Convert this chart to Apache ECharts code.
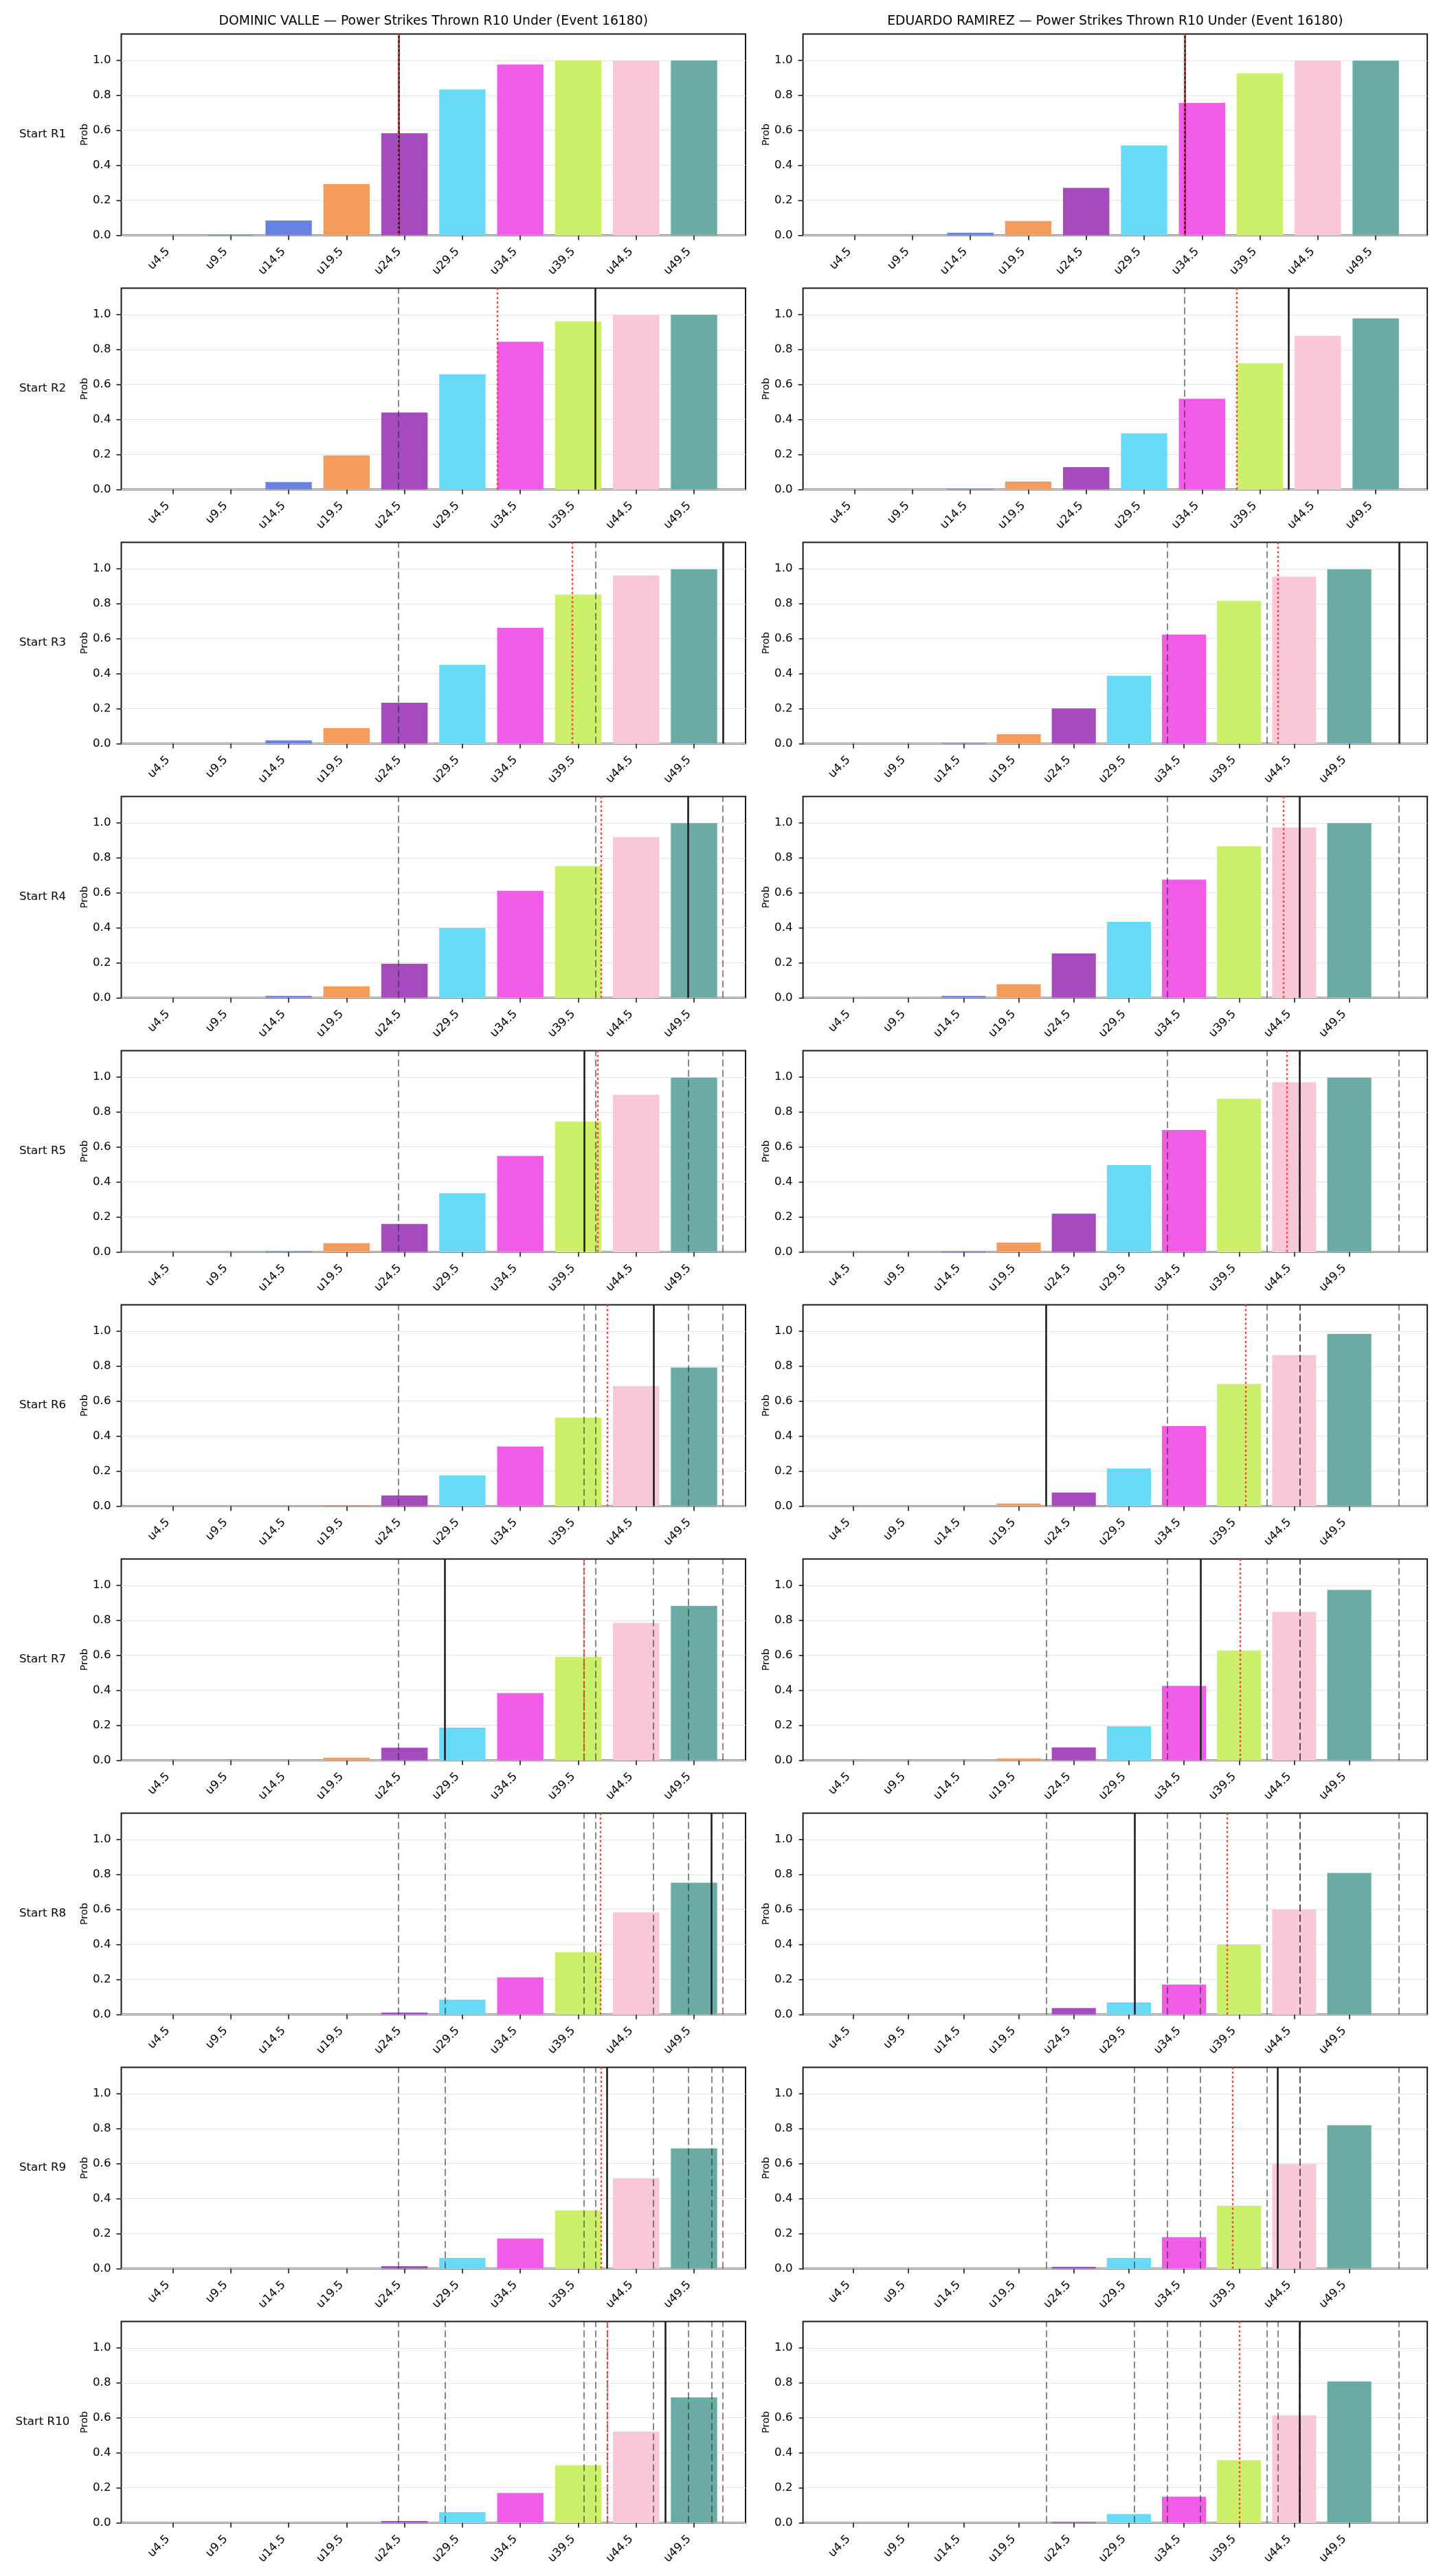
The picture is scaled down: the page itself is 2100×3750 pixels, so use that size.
<!DOCTYPE html>
<html>
<head>
<meta charset="utf-8">
<script src="https://cdn.jsdelivr.net/npm/echarts@6.0.0/dist/echarts.min.js"></script>
<style>
  html, body { margin: 0; padding: 0; background: #fff; }
  #main { width: 2100px; height: 3750px; }
</style>
</head>
<body>
<div id="main"></div>
<script>
// under-lines on the x axis
var CATEGORIES = ['u4.5', 'u9.5', 'u14.5', 'u19.5', 'u24.5', 'u29.5', 'u34.5', 'u39.5', 'u44.5', 'u49.5'];
var ROUNDS = ['Start R1', 'Start R2', 'Start R3', 'Start R4', 'Start R5',
              'Start R6', 'Start R7', 'Start R8', 'Start R9', 'Start R10'];
var TITLES = ['DOMINIC VALLE \u2014 Power Strikes Thrown R10 Under (Event 16180)',
              'EDUARDO RAMIREZ \u2014 Power Strikes Thrown R10 Under (Event 16180)'];
var Y_TICKS = [0, 0.2, 0.4, 0.6, 0.8, 1.0];

// P(under) by start round (one row per round)
var VALLE_PROBS = [
  [0, 0.003, 0.085, 0.293, 0.583, 0.833, 0.976, 0.998, 0.999, 0.999],
  [0, 0, 0.043, 0.195, 0.44, 0.659, 0.844, 0.961, 0.997, 0.998],
  [0, 0, 0.019, 0.089, 0.234, 0.451, 0.662, 0.852, 0.961, 0.996],
  [0, 0, 0.011, 0.065, 0.195, 0.399, 0.612, 0.753, 0.918, 0.998],
  [0, 0, 0.006, 0.05, 0.16, 0.336, 0.549, 0.746, 0.898, 0.996],
  [0, 0, 0, 0.002, 0.061, 0.176, 0.341, 0.506, 0.686, 0.792],
  [0, 0, 0, 0.015, 0.072, 0.187, 0.384, 0.592, 0.785, 0.883],
  [0, 0, 0, 0, 0.011, 0.085, 0.212, 0.356, 0.584, 0.753],
  [0, 0, 0, 0, 0.014, 0.061, 0.172, 0.333, 0.517, 0.687],
  [0, 0, 0, 0, 0.01, 0.061, 0.17, 0.329, 0.521, 0.717]
];
var RAMIREZ_PROBS = [
  [0, 0, 0.015, 0.082, 0.271, 0.514, 0.757, 0.926, 0.998, 0.998],
  [0, 0, 0.004, 0.046, 0.128, 0.321, 0.518, 0.722, 0.879, 0.978],
  [0, 0, 0.002, 0.054, 0.202, 0.388, 0.623, 0.816, 0.954, 0.996],
  [0, 0, 0.011, 0.078, 0.254, 0.434, 0.675, 0.866, 0.974, 0.998],
  [0, 0, 0.002, 0.054, 0.219, 0.497, 0.697, 0.876, 0.97, 0.996],
  [0, 0, 0, 0.015, 0.078, 0.215, 0.458, 0.698, 0.863, 0.985],
  [0, 0, 0, 0.011, 0.074, 0.195, 0.425, 0.627, 0.848, 0.974],
  [0, 0, 0, 0, 0.037, 0.069, 0.171, 0.399, 0.599, 0.809],
  [0, 0, 0, 0, 0.01, 0.061, 0.18, 0.36, 0.598, 0.82],
  [0, 0, 0, 0, 0.006, 0.05, 0.15, 0.358, 0.614, 0.808]
];

// actual count at each round (solid black); earlier rounds show as grey dashes
var VALLE_ACTUAL = [24, 41, 52, 49, 40, 46, 28, 51, 42, 47];
var RAMIREZ_ACTUAL = [33, 42, 54, 45, 45, 22, 36, 30, 43, 45];
// projection (red dotted)
var VALLE_PROJ = [24, 32.5, 39, 41.5, 41.2, 42, 40, 41.4, 41.5, 42];
var RAMIREZ_PROJ = [33, 37.5, 43, 43.5, 43.85, 40.1, 39.6, 38.4, 38.9, 39.5];

var BAR_COLORS = ['#7d9bd6', '#5fa67c', '#6a82df', '#f59c5c', '#a54bbf',
                  '#67daf5', '#f05be8', '#ccf06a', '#f8c8d8', '#6aaba6'];

var FONT = 'DejaVu Sans';
var thresholds = CATEGORIES.map(function (c) { return parseFloat(c.slice(1)); });
var BAR_W = 4;            // 0.8 of the 5-strike step
var COL_LEFT = [176.5, 1168.6];
var PANEL_W = 908.5, PANEL_H = 293, TOP0 = 49.6, ROW_STEP = 370;

// same rule as matplotlib: 5% margin, grown only when a line falls outside
function xExtent(lines) {
  var lo = thresholds[0] - BAR_W / 2, hi = thresholds[thresholds.length - 1] + BAR_W / 2;
  var pad = 0.05 * (hi - lo);
  var vmin = lo - pad, vmax = hi + pad;
  var outside = lines.some(function (v) { return v < vmin || v > vmax; });
  if (!outside) return [vmin, vmax];
  lo = Math.min.apply(null, [lo].concat(lines));
  hi = Math.max.apply(null, [hi].concat(lines));
  pad = 0.05 * (hi - lo);
  return [lo - pad, hi + pad];
}

var grids = [], xAxes = [], yAxes = [], series = [], graphics = [];

TITLES.forEach(function (t, c) {
  graphics.push({
    type: 'text', x: COL_LEFT[c] + PANEL_W / 2, y: 31,
    style: { text: t, font: '18.75px "' + FONT + '"', fill: '#000', align: 'center', verticalAlign: 'middle' }
  });
});

var players = [
  { probs: VALLE_PROBS, actual: VALLE_ACTUAL, proj: VALLE_PROJ },
  { probs: RAMIREZ_PROBS, actual: RAMIREZ_ACTUAL, proj: RAMIREZ_PROJ }
];

ROUNDS.forEach(function (label, r) {
  var top = TOP0 + ROW_STEP * r;
  graphics.push({
    type: 'text', x: 62, y: top + PANEL_H / 2,
    style: { text: label, font: '16.67px "' + FONT + '"', fill: '#000', align: 'center', verticalAlign: 'middle' }
  });

  players.forEach(function (pl, c) {
    var k = grids.length;
    var prev = pl.actual.slice(0, r);
    var ext = xExtent(prev.concat([pl.actual[r], pl.proj[r]]));

    grids.push({
      left: COL_LEFT[c], top: top, width: PANEL_W, height: PANEL_H,
      show: true, borderColor: '#1a1a1a', borderWidth: 2, backgroundColor: 'transparent'
    });
    xAxes.push({
      type: 'value', gridIndex: k, min: ext[0], max: ext[1],
      axisLine: { show: false },
      splitLine: { show: false },
      axisTick: { show: true, customValues: thresholds, length: 7, lineStyle: { color: '#1a1a1a', width: 1.6 } },
      axisLabel: {
        customValues: thresholds, rotate: 45, margin: 14, padding: [0, 10, 0, 0],
        fontFamily: FONT, fontSize: 16.67, color: '#000',
        formatter: function (v) { return CATEGORIES[thresholds.indexOf(v)]; }
      }
    });
    yAxes.push({
      type: 'value', gridIndex: k, min: 0, max: 1.15, interval: 0.2,
      name: 'Prob', nameLocation: 'middle', nameGap: 46,
      nameTextStyle: { fontFamily: FONT, fontSize: 14.6, color: '#000' },
      axisLine: { show: false },
      axisTick: { show: true, customValues: Y_TICKS, length: 7, lineStyle: { color: '#1a1a1a', width: 1.6 } },
      axisLabel: {
        customValues: Y_TICKS, margin: 15, fontFamily: FONT, fontSize: 16.67, color: '#000',
        formatter: function (v) { return v.toFixed(1); }
      },
      splitLine: { show: true, lineStyle: { color: '#e4e4e4', width: 1.2 } }
    });

    series.push({
      type: 'custom', xAxisIndex: k, yAxisIndex: k, z: 2,
      data: pl.probs[r].map(function (p, i) { return [thresholds[i], p, i]; }),
      renderItem: function (params, api) {
        var x = api.value(0), y = api.value(1);
        var p0 = api.coord([x - BAR_W / 2, y]);
        var p1 = api.coord([x + BAR_W / 2, 0]);
        return {
          type: 'rect',
          shape: { x: p0[0], y: p0[1], width: p1[0] - p0[0], height: p1[1] - p0[1] },
          style: { fill: BAR_COLORS[api.value(2)] }
        };
      }
    });

    var marks = [];
    prev.forEach(function (v) {
      marks.push({ xAxis: v, lineStyle: { color: 'rgba(45,45,45,0.7)', width: 1.6, type: [10, 5] } });
    });
    marks.push({ xAxis: pl.actual[r], lineStyle: { color: '#1e1e1e', width: 2.6, type: 'solid' } });
    marks.push({ xAxis: pl.proj[r], lineStyle: { color: '#ff3b3b', width: 2.4, type: [3, 3.6] } });

    series.push({
      type: 'line', xAxisIndex: k, yAxisIndex: k, data: [], z: 5,
      markLine: {
        silent: true, symbol: ['none', 'none'], animation: false,
        label: { show: false }, emphasis: { disabled: true },
        data: marks
      }
    });
  });
});

var chart = echarts.init(document.getElementById('main'));
chart.setOption({
  animation: false,
  backgroundColor: '#fff',
  textStyle: { fontFamily: FONT },
  grid: grids,
  xAxis: xAxes,
  yAxis: yAxes,
  series: series,
  graphic: graphics
});
</script>
</body>
</html>
